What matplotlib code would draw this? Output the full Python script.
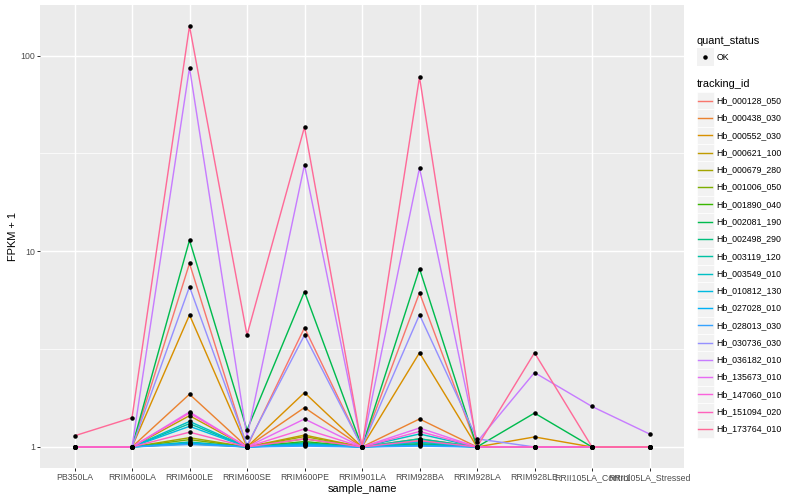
import numpy as np
import matplotlib
matplotlib.use("Agg")
import matplotlib.pyplot as plt
from matplotlib.patches import Rectangle
from matplotlib.lines import Line2D

plt.rcParams['font.family'] = ['Liberation Sans', 'DejaVu Sans']

samples = ["PB350LA", "RRIM600LA", "RRIM600LE", "RRIM600SE", "RRIM600PE",
           "RRIM901LA", "RRIM928BA", "RRIM928LA", "RRIM928LE",
           "RRII105LA_Control", "RRII105LA_Stressed"]

tracking_ids = ["Hb_000128_050", "Hb_000438_030", "Hb_000552_030", "Hb_000621_100",
                "Hb_000679_280", "Hb_001006_050", "Hb_001890_040", "Hb_002081_190",
                "Hb_002498_290", "Hb_003119_120", "Hb_003549_010", "Hb_010812_130",
                "Hb_027028_010", "Hb_028013_030", "Hb_030736_030", "Hb_036182_010",
                "Hb_135673_010", "Hb_147060_010", "Hb_151094_020", "Hb_173764_010"]

# FPKM + 1 per sample, one list per tracking_id
hb_000128_050 = [1, 1, 8.68, 1.0, 4.07, 1, 6.14, 1, 1, 1, 1]
hb_000438_030 = [1, 1, 1.86, 1, 1.59, 1, 1.39, 1, 1, 1, 1]
hb_000552_030 = [1, 1, 4.73, 1, 1.895, 1, 3.03, 1, 1.125, 1, 1]
hb_000621_100 = [1, 1, 1.445, 1, 1.15, 1, 1.10, 1, 1, 1, 1]
hb_000679_280 = [1, 1, 1.115, 1, 1.13, 1, 1.077, 1, 1, 1, 1]
hb_001006_050 = [1, 1, 1.09, 1, 1.10, 1, 1.057, 1, 1, 1, 1]
hb_001890_040 = [1, 1, 1.04, 1, 1.065, 1, 1.03, 1, 1, 1, 1]
hb_002081_190 = [1, 1, 11.4, 1.22, 6.22, 1, 8.15, 1, 1.49, 1, 1]
hb_002498_290 = [1, 1, 1.06, 1, 1.05, 1, 1.04, 1, 1, 1, 1]
hb_003119_120 = [1, 1, 1.315, 1, 1.04, 1, 1.10, 1, 1, 1, 1]
hb_003549_010 = [1, 1, 1.35, 1, 1.03, 1, 1.165, 1, 1, 1, 1]
hb_010812_130 = [1, 1, 1.275, 1, 1.03, 1, 1.06, 1, 1, 1, 1]
hb_027028_010 = [1, 1, 1.05, 1, 1.02, 1, 1.02, 1, 1, 1, 1]
hb_028013_030 = [1, 1, 1.03, 1, 1.01, 1, 1.01, 1, 1, 1, 1]
hb_030736_030 = [1, 1, 6.59, 1.02, 3.73, 1, 4.74, 1.10, 1, 1, 1]
hb_036182_010 = [1, 1, 86.9, 1.125, 27.7, 1, 26.7, 1.06, 2.40, 1.61, 1.165]
hb_135673_010 = [1, 1, 1.51, 1, 1.39, 1, 1.25, 1, 1, 1, 1]
hb_147060_010 = [1, 1, 1.49, 1, 1.236, 1, 1.20, 1, 1, 1, 1]
hb_151094_020 = [1, 1, 1.19, 1, 1.10, 1, 1.077, 1, 1, 1, 1]
hb_173764_010 = [1.14, 1.41, 141.7, 3.73, 43.2, 1, 77.8, 1, 3.03, 1, 1]

series_values = [hb_000128_050, hb_000438_030, hb_000552_030, hb_000621_100,
                 hb_000679_280, hb_001006_050, hb_001890_040, hb_002081_190,
                 hb_002498_290, hb_003119_120, hb_003549_010, hb_010812_130,
                 hb_027028_010, hb_028013_030, hb_030736_030, hb_036182_010,
                 hb_135673_010, hb_147060_010, hb_151094_020, hb_173764_010]

y_ticks = [1, 10, 100]
y_tick_labels = ["1", "10", "100"]


def hcl_hex(h, c=100.0, l=65.0):
    hr = np.deg2rad(h)
    u = c * np.cos(hr)
    v = c * np.sin(hr)
    Xn, Yn, Zn = 95.047, 100.0, 108.883
    un = 4 * Xn / (Xn + 15 * Yn + 3 * Zn)
    vn = 9 * Yn / (Xn + 15 * Yn + 3 * Zn)
    Y = Yn * ((l + 16) / 116) ** 3
    up = u / (13 * l) + un
    vp = v / (13 * l) + vn
    X = Y * 9 * up / (4 * vp)
    Z = Y * (12 - 3 * up - 20 * vp) / (4 * vp)
    X, Y, Z = X / 100, Y / 100, Z / 100
    r = 3.2404542 * X - 1.5371385 * Y - 0.4985314 * Z
    g = -0.9692660 * X + 1.8760108 * Y + 0.0415560 * Z
    b = 0.0556434 * X - 0.2040259 * Y + 1.0572252 * Z

    def gam(t):
        t = min(max(t, 0.0), 1.0)
        return 12.92 * t if t <= 0.0031308 else 1.055 * t ** (1 / 2.4) - 0.055
    return (gam(r), gam(g), gam(b))


n = len(tracking_ids)
hues = [15 + i * 360.0 / n for i in range(n)]
colors = [hcl_hex(h) for h in hues]

W, H = 800, 500
fig = plt.figure(figsize=(W / 100, H / 100), dpi=100)
fig.patch.set_facecolor("white")

px = 72.0 / 100.0  # points per pixel
pl, pr, pt_, pb = 40, 684, 5, 468
ax = fig.add_axes([pl / W, 1 - pb / H, (pr - pl) / W, (pb - pt_) / H])
ax.set_facecolor("#EBEBEB")
for s in ax.spines.values():
    s.set_visible(False)

x = np.arange(len(samples))
ax.set_yscale("log")

# limits with ggplot-like expansion
allv = np.concatenate([np.asarray(v, float) for v in series_values])
lo, hi = np.log10(allv.min()), np.log10(allv.max())
span = hi - lo
ax.set_ylim(10 ** (lo - 0.05 * span), 10 ** (hi + 0.05 * span))
ax.set_xlim(-0.6, len(samples) - 1 + 0.6)

# grid
ax.set_axisbelow(True)
for xi in x:
    ax.axvline(xi, color="white", lw=1.42 * px, zorder=0)
for yt in y_ticks:
    ax.axhline(yt, color="white", lw=1.42 * px, zorder=0)
for ym in [10 ** 0.5, 10 ** 1.5]:
    ax.axhline(ym, color="white", lw=0.71 * px, zorder=0)

for vals, col in zip(series_values, colors):
    ax.plot(x, vals, color=col, lw=1.42 * px, zorder=2, solid_capstyle="butt")
for vals in series_values:
    ax.plot(x, vals, linestyle="none", marker="o", ms=3.1 * px,
            color="black", zorder=3)

ax.set_xticks(x)
ax.set_xticklabels(samples)
ax.set_yticks(y_ticks)
ax.set_yticklabels(y_tick_labels)
ax.yaxis.set_minor_locator(matplotlib.ticker.NullLocator())
ax.tick_params(axis="both", which="major", length=2.75 * px, width=1.0 * px,
               color="#333333", labelcolor="#4D4D4D", labelsize=8.8 * px, pad=2.2 * px)

ax.set_xlabel("sample_name", fontsize=11 * px, color="black", labelpad=2.0 * px)
ax.set_ylabel("FPKM + 1", fontsize=11 * px, color="black", labelpad=2.75 * px)

# legend drawn in pixel coordinates
lg = fig.add_axes([0, 0, 1, 1], facecolor="none")
lg.set_xlim(0, W)
lg.set_ylim(H, 0)
lg.axis("off")
key = 17.28
kx = 696.7
lg.text(kx, 40.7, "quant_status", fontsize=11 * px, va="center", ha="left")
lg.add_patch(Rectangle((kx, 57 - key / 2), key, key, facecolor="#F2F2F2", edgecolor="none"))
lg.add_line(Line2D([kx + key / 2], [57], marker="o", ms=3.1 * px, color="black", linestyle="none"))
lg.text(kx + key + 2.6, 57, "OK", fontsize=8.8 * px, va="center", ha="left")

lg.text(kx, 84.3, "tracking_id", fontsize=11 * px, va="center", ha="left")
y0 = 100.7
for i, (tid, col) in enumerate(zip(tracking_ids, colors)):
    yc = y0 + i * key
    lg.add_patch(Rectangle((kx, yc - key / 2), key, key, facecolor="#F2F2F2",
                           edgecolor="white", lw=0.5))
    lg.add_line(Line2D([kx + 1.7, kx + key - 1.7], [yc, yc], color=col, lw=1.42 * px))
    lg.text(kx + key + 2.6, yc, tid, fontsize=8.8 * px, va="center", ha="left")

fig.savefig("out.png", dpi=100)
